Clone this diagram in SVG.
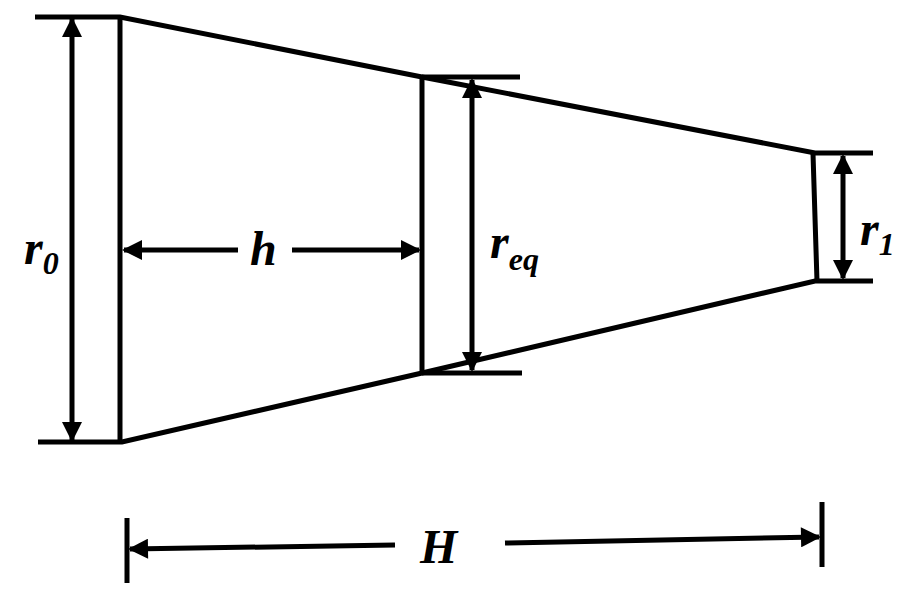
<svg xmlns="http://www.w3.org/2000/svg" width="916" height="598" viewBox="0 0 916 598">
<defs>
<style>
.l{stroke:#000;stroke-width:5;fill:none}
.a{stroke:#000;stroke-width:5;fill:none}
.t{font-family:"Liberation Serif",serif;font-weight:bold;font-style:italic;fill:#000}
</style>
<marker id="ar" viewBox="0 0 10 10" refX="9" refY="5" markerWidth="5" markerHeight="4" orient="auto-start-reverse" markerUnits="strokeWidth">
<path d="M0,0 L10,5 L0,10 z" fill="#000"/>
</marker>
</defs>
<rect width="916" height="598" fill="#fff"/>
<g id="body">
<path class="l" d="M35,17 H120 L422,77 L815,153 H873"/>
<path class="l" d="M38,442 H122 L422,373 L815,281 H873"/>
<path class="l" d="M120,17 V442"/>
<path class="l" d="M422,77 V373 M422,77 H520 M422,373 H522"/>
<path class="l" d="M813,153 L817,281"/>
<path class="l" d="M127,518 V583 M822,502 V567"/>
</g>
<g id="connectors">
<path class="a" d="M72,19 V440" marker-start="url(#ar)" marker-end="url(#ar)"/>
<path class="a" d="M238,250 H124" marker-end="url(#ar)"/>
<path class="a" d="M292,250 H419" marker-end="url(#ar)"/>
<path class="a" d="M472,80 V370" marker-start="url(#ar)" marker-end="url(#ar)"/>
<path class="a" d="M843,156 V278" marker-start="url(#ar)" marker-end="url(#ar)"/>
<path class="a" d="M395,545 L130,549" marker-end="url(#ar)"/>
<path class="a" d="M505,543 L819,537" marker-end="url(#ar)"/>
</g>
<g id="labels">
<text class="t" x="24" y="264" font-size="48">r<tspan font-size="32" dy="10">0</tspan></text>
<text class="t" x="250" y="265" font-size="48">h</text>
<text class="t" x="490" y="258" font-size="48">r<tspan font-size="32" dy="12">eq</tspan></text>
<text class="t" x="860" y="245" font-size="48">r<tspan font-size="32" dy="10">1</tspan></text>
<text class="t" x="420" y="563" font-size="48">H</text>
</g>
</svg>
